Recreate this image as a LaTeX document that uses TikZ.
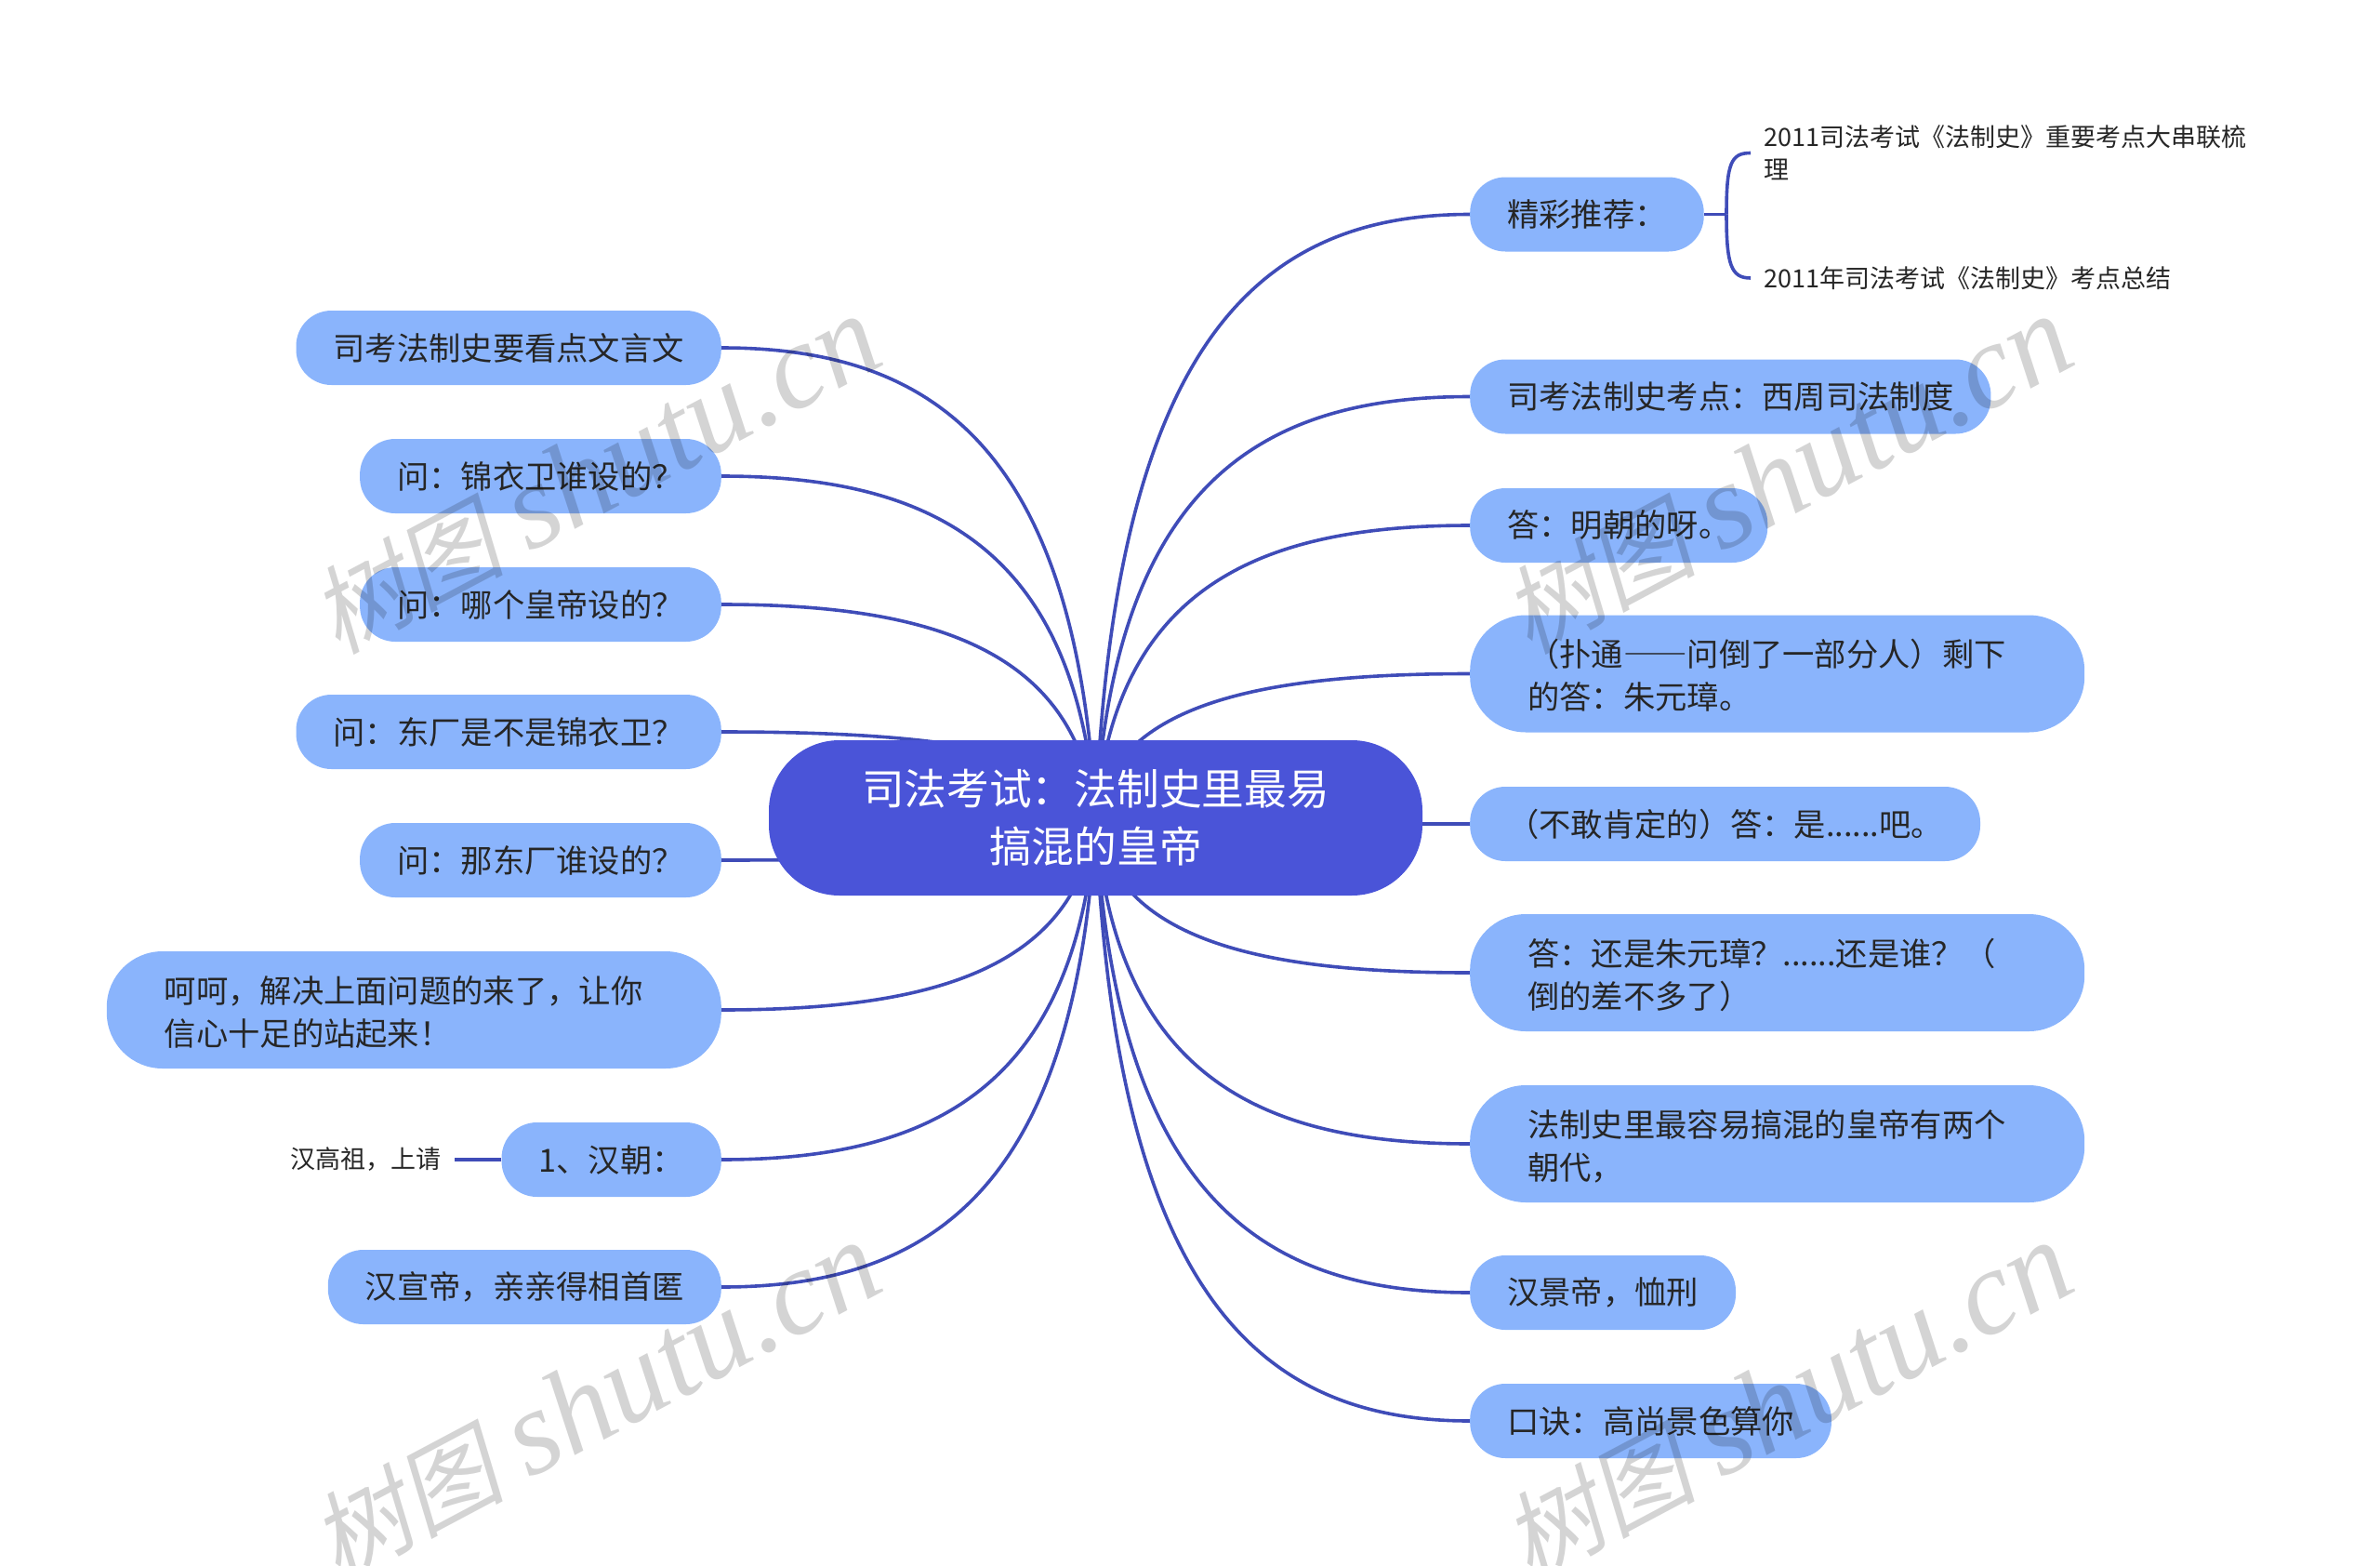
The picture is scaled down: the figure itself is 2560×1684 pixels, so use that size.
\documentclass[tikz,border=0pt]{standalone}
\usepackage{fontspec}
\setmainfont{Noto Sans CJK SC}
\newfontfamily\wmcjk[FakeSlant=0.2]{Noto Sans CJK SC}
\newfontfamily\wmlatin{Liberation Serif}
\usetikzlibrary{calc,backgrounds}
\definecolor{topicblue}{HTML}{8AB4FC}
\definecolor{rootblue}{HTML}{4A54D8}
\definecolor{linkblue}{HTML}{3F4CB8}
\newcommand{\zcolon}{\char"FF1A\relax}
\newcommand{\zcomma}{\char"FF0C\relax}
\newcommand{\zask}{\char"FF1F\relax}
\newcommand{\zopen}{\char"FF08\relax}
\newcommand{\zclose}{\char"FF09\relax}
\newcommand{\zbang}{\char"FF01\relax}
\newcommand{\zdash}{{\addfontfeature{CharacterWidth=Full}——}}
\tikzset{
	rootnode/.style={fill=rootblue,rounded corners=76,minimum width=703,minimum height=167,align=center,text=white,font=\fontsize{45.7}{62}\selectfont,inner sep=0},
	topic/.style={fill=topicblue,rounded corners=38,minimum height=80,inner xsep=40,inner ysep=0,text=black!85,font=\fontsize{34.3}{46}\selectfont},
	topictwo/.style={topic,rounded corners=60,minimum height=126,text width=537,inner xsep=62,align=left,text height=30,text depth=46},
	leaf/.style={inner xsep=14,inner ysep=0,text=black!85,align=left,font=\fontsize{27}{35}\selectfont},
	link/.style={draw=linkblue,line width=3.6,to path={let \p1=(\tikztostart),\p2=(\tikztotarget),\n1={\x2-\x1},\n2={\y2-\y1} in .. controls (\x1+0.05*\n1,\y1+0.8*\n2) and (\x1+0.45*\n1,\y2) .. (\tikztotarget)}},
	stub/.style={draw=linkblue,line width=3.6},
	wmark/.style={rotate=28,text=black,opacity=0.17,inner sep=0}
}
\newcommand{\wmtext}{{\wmcjk\fontsize{104}{104}\selectfont 树图}\hspace{26pt}{\wmlatin\itshape\fontsize{130}{130}\selectfont shutu.cn}}
\begin{document}
\begin{tikzpicture}[x=1pt,y=-1pt]
	\useasboundingbox (0,0) rectangle (2560,1684);
	\node[rootnode] (root) at (1178.5,879.5) {司法考试\zcolon 法制史里最易\\搞混的皇帝};
	% right side
	\node[topic,anchor=west] (R1) at (1581,230.5) {精彩推荐\zcolon};
	\node[topic,anchor=west] (R2) at (1581,426.5) {司考法制史考点\zcolon 西周司法制度};
	\node[topic,anchor=west] (R3) at (1581,565) {答\zcolon 明朝的呀。};
	\node[topictwo,anchor=west] (R4) at (1581,724.5) {\zopen 扑通\zdash 问倒了一部分人\zclose 剩下\\的答\zcolon 朱元璋。};
	\node[topic,anchor=west] (R5) at (1581,886) {\zopen 不敢肯定的\zclose 答\zcolon 是......吧。};
	\node[topictwo,anchor=west] (R6) at (1581,1046) {答\zcolon 还是朱元璋\zask ......还是谁\zask\zopen\\倒的差不多了\zclose};
	\node[topictwo,anchor=west] (R7) at (1581,1230) {法制史里最容易搞混的皇帝有两个\\朝代\zcomma};
	\node[topic,anchor=west] (R8) at (1581,1390) {汉景帝\zcomma 恤刑};
	\node[topic,anchor=west] (R9) at (1581,1528) {口诀\zcolon 高尚景色算你};
	% left side
	\node[topic,anchor=east] (L1) at (776,374) {司考法制史要看点文言文};
	\node[topic,anchor=east] (L2) at (776,512) {问\zcolon 锦衣卫谁设的\zask};
	\node[topic,anchor=east] (L3) at (776,650) {问\zcolon 哪个皇帝设的\zask};
	\node[topic,anchor=east] (L4) at (776,787) {问\zcolon 东厂是不是锦衣卫\zask};
	\node[topic,anchor=east] (L5) at (776,925) {问\zcolon 那东厂谁设的\zask};
	\node[topictwo,anchor=east] (L6) at (776,1086) {呵呵\zcomma 解决上面问题的来了\zcomma 让你\\信心十足的站起来\zbang};
	\node[topic,anchor=east] (L7) at (776,1247) {1、汉朝\zcolon};
	\node[topic,anchor=east] (L8) at (776,1384) {汉宣帝\zcomma 亲亲得相首匿};
	% leaves
	\node[leaf,anchor=west] (R1a) at (1883,164.5) {2011司法考试《法制史》重要考点大串联梳\\理};
	\node[leaf,anchor=west] (R1b) at (1883,299) {2011年司法考试《法制史》考点总结};
	\node[leaf,anchor=east] (L7a) at (489,1247) {汉高祖\zcomma 上请};
	\coordinate (R1fork) at (1857,230.5);
	\begin{scope}[on background layer]
		\draw[link] (root.center) to (R1.west);
		\draw[link] (root.center) to (R2.west);
		\draw[link] (root.center) to (R3.west);
		\draw[link] (root.center) to (R4.west);
		\draw[link] (root.center) to (R5.west);
		\draw[link] (root.center) to (R6.west);
		\draw[link] (root.center) to (R7.west);
		\draw[link] (root.center) to (R8.west);
		\draw[link] (root.center) to (R9.west);
		\draw[link] (root.center) to (L1.east);
		\draw[link] (root.center) to (L2.east);
		\draw[link] (root.center) to (L3.east);
		\draw[link] (root.center) to (L4.east);
		\draw[link] (root.center) to (L5.east);
		\draw[link] (root.center) to (L6.east);
		\draw[link] (root.center) to (L7.east);
		\draw[link] (root.center) to (L8.east);
		\draw[stub] (R1.east) -- (R1fork);
		\draw[stub] (R1fork) .. controls (1857,175) and (1862,164.5) .. (R1a.west);
		\draw[stub] (R1fork) .. controls (1857,285) and (1862,299) .. (R1b.west);
		\draw[stub] (L7.west) -- (L7a.east);
	\end{scope}
	% watermark
	\node[wmark] (W1) at (640,511) {\wmtext};
	\node[wmark] (W2) at (1922,511) {\wmtext};
	\node[wmark] (W3) at (640,1507) {\wmtext};
	\node[wmark] (W4) at (1922,1507) {\wmtext};
\end{tikzpicture}
\end{document}
